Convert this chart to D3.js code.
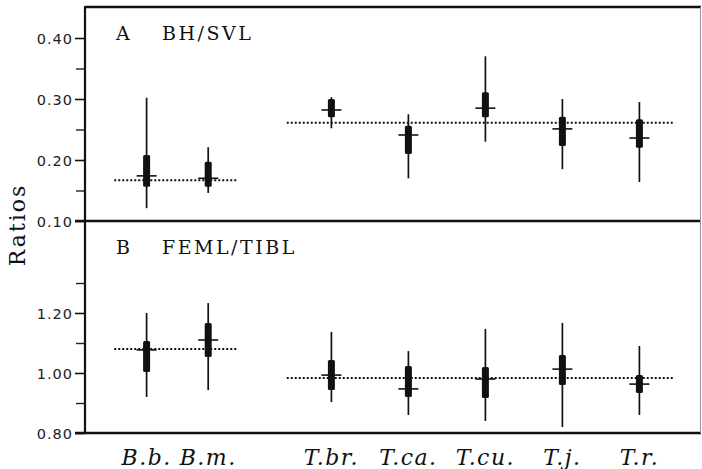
<!DOCTYPE html>
<html>
<head>
<meta charset="utf-8">
<script src="https://cdn.jsdelivr.net/npm/d3@7"></script>
<style>
  body { margin: 0; background: #fff; }
  svg { display: block; }
  .tick-label { font-family: "DejaVu Sans", sans-serif; font-size: 14.5px; letter-spacing: 1px; fill: #222; }
  .panel-title { font-family: "DejaVu Serif", serif; font-size: 19px; letter-spacing: 2.5px; fill: #111; }
  .sp-label { font-family: "DejaVu Serif", serif; font-style: italic; font-size: 22px; letter-spacing: 1.5px; fill: #111; }
</style>
</head>
<body>
<script>
const width = 702;
const height = 469;

// species (x categories)
const species = ["B.b.", "B.m.", "T.br.", "T.ca.", "T.cu.", "T.j.", "T.r."];
const genus = ["B", "B", "T", "T", "T", "T", "T"];

// panel A  BH/SVL
const bhMin  = [0.121, 0.146, 0.252, 0.170, 0.230, 0.185, 0.164];
const bhMax  = [0.302, 0.221, 0.303, 0.275, 0.370, 0.300, 0.295];
const bhLo   = [0.156, 0.156, 0.270, 0.210, 0.270, 0.223, 0.220];
const bhHi   = [0.208, 0.197, 0.300, 0.256, 0.311, 0.271, 0.267];
const bhMean = [0.174, 0.170, 0.282, 0.241, 0.285, 0.251, 0.236];
const bhGenusMean = { B: 0.167, T: 0.261 };

// panel B  FEML/TIBL
const feMin  = [0.920, 0.943, 0.903, 0.860, 0.840, 0.820, 0.860];
const feMax  = [1.200, 1.233, 1.137, 1.073, 1.147, 1.167, 1.090];
const feLo   = [1.003, 1.053, 0.943, 0.920, 0.917, 0.960, 0.933];
const feHi   = [1.107, 1.167, 1.043, 1.023, 1.020, 1.060, 0.993];
const feMean = [1.077, 1.110, 0.993, 0.947, 0.980, 1.013, 0.963];
const feGenusMean = { B: 1.08, T: 0.983 };

// axis ticks
const ticksA = [0.10, 0.20, 0.30, 0.40];
const minorA = [0.15, 0.25, 0.35];
const ticksB = [0.80, 1.00, 1.20];
const minorB = [0.90, 1.10, 1.30];

// layout: slot of each species along x (gap between genera)
const slot = [0, 0.8, 2.4, 3.4, 4.4, 5.4, 6.4];
const fLeft = 85, fRight = 701, fTop = 7, fMid = 221, fBottom = 433;

const svg = d3.select("body").append("svg")
  .attr("width", width).attr("height", height);

const x = d3.scaleLinear().domain([-0.8, 7.2]).range([fLeft, fRight]);
const yA = d3.scaleLinear().domain([0.10, 0.40]).range([fMid, 38]);
const yB = d3.scaleLinear().domain([0.80, 1.20]).range([fBottom, 313]);

function drawPanel(y, ticks, minor, mins, maxs, los, his, means, gmean) {
  const g = svg.append("g");

  // y axis ticks
  const axis = d3.axisLeft(y).tickValues(ticks).tickSize(10)
    .tickFormat(d3.format(".2f"));
  const ax = g.append("g").attr("transform", `translate(${fLeft},0)`).call(axis);
  ax.select(".domain").remove();
  ax.selectAll(".tick line").attr("stroke", "#111").attr("stroke-width", 1.6);
  ax.selectAll(".tick text").attr("class", "tick-label").attr("x", -12)
    .attr("dy", "0.35em");

  const axm = g.append("g").attr("transform", `translate(${fLeft},0)`)
    .call(d3.axisLeft(y).tickValues(minor).tickSize(9).tickFormat(""));
  axm.select(".domain").remove();
  axm.selectAll(".tick line").attr("stroke", "#222").attr("stroke-width", 1.4);

  // genus means (dotted)
  const gm = [
    { v: gmean.B, x0: slot[0] - 0.42, x1: slot[1] + 0.39 },
    { v: gmean.T, x0: slot[2] - 0.58, x1: slot[6] + 0.44 }
  ];
  g.selectAll(".gmean").data(gm).enter().append("line")
    .attr("x1", d => x(d.x0)).attr("x2", d => x(d.x1))
    .attr("y1", d => y(d.v)).attr("y2", d => y(d.v))
    .attr("stroke", "#111").attr("stroke-width", 2)
    .attr("stroke-dasharray", "2,2");

  const data = species.map((s, i) => ({
    s, i, min: mins[i], max: maxs[i], lo: los[i], hi: his[i], mean: means[i]
  }));

  const m = g.selectAll(".mark").data(data).enter().append("g");
  m.append("line")
    .attr("x1", d => x(slot[d.i])).attr("x2", d => x(slot[d.i]))
    .attr("y1", d => y(d.min)).attr("y2", d => y(d.max))
    .attr("stroke", "#111").attr("stroke-width", 1.7);
  m.append("rect")
    .attr("x", d => x(slot[d.i]) - 3.5).attr("width", 7)
    .attr("y", d => y(d.hi)).attr("height", d => y(d.lo) - y(d.hi))
    .attr("rx", 1.5)
    .attr("fill", "#111");
  m.append("line")
    .attr("x1", d => x(slot[d.i]) - 10).attr("x2", d => x(slot[d.i]) + 10)
    .attr("y1", d => y(d.mean)).attr("y2", d => y(d.mean))
    .attr("stroke", "#111").attr("stroke-width", 1.6);

  return g;
}

drawPanel(yA, ticksA, minorA, bhMin, bhMax, bhLo, bhHi, bhMean, bhGenusMean);
drawPanel(yB, ticksB, minorB, feMin, feMax, feLo, feHi, feMean, feGenusMean);

// frame
svg.append("line").attr("x1", fLeft).attr("x2", fRight).attr("y1", fTop).attr("y2", fTop)
  .attr("stroke", "#111").attr("stroke-width", 2.5);
svg.append("line").attr("x1", fLeft - 10).attr("x2", fRight).attr("y1", fMid).attr("y2", fMid)
  .attr("stroke", "#111").attr("stroke-width", 2.5);
svg.append("line").attr("x1", fLeft - 10).attr("x2", fRight).attr("y1", fBottom).attr("y2", fBottom)
  .attr("stroke", "#111").attr("stroke-width", 2.5);
svg.append("line").attr("x1", fLeft).attr("x2", fLeft).attr("y1", fTop - 1).attr("y2", fBottom + 1)
  .attr("stroke", "#111").attr("stroke-width", 2.2);
svg.append("line").attr("x1", fRight - 0.5).attr("x2", fRight - 0.5).attr("y1", fTop).attr("y2", fBottom)
  .attr("stroke", "#999").attr("stroke-width", 1);

// panel titles
svg.append("text").attr("class", "panel-title").attr("x", 116).attr("y", 40).text("A");
svg.append("text").attr("class", "panel-title").attr("x", 162).attr("y", 40).text("BH/SVL");
svg.append("text").attr("class", "panel-title").attr("x", 116).attr("y", 254).text("B");
svg.append("text").attr("class", "panel-title").attr("x", 162).attr("y", 254).text("FEML/TIBL");

// y label
svg.append("text")
  .attr("transform", `translate(25,${(fTop + fBottom) / 2 + 5}) rotate(-90)`)
  .attr("text-anchor", "middle")
  .style("font-family", "DejaVu Serif, serif").style("font-size", "22px")
  .style("letter-spacing", "2px").style("fill", "#111")
  .text("Ratios");

// species labels
svg.selectAll(".sp-label").data(species).enter().append("text")
  .attr("class", "sp-label")
  .attr("x", (d, i) => x(slot[i])).attr("y", 465)
  .attr("text-anchor", "middle")
  .text(d => d);
</script>
</body>
</html>
